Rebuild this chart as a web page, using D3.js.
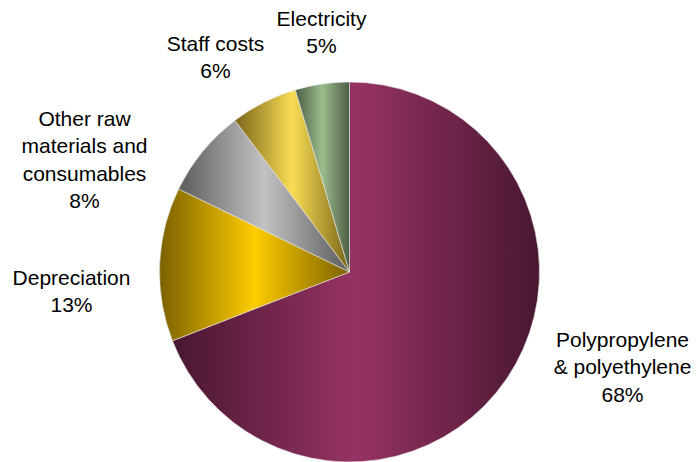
<!DOCTYPE html>
<html>
<head>
<meta charset="utf-8">
<script src="https://cdn.jsdelivr.net/npm/d3@7"></script>
<style>
  body { margin: 0; background: #fff; }
  text { font-family: "Liberation Sans", Arial, sans-serif; font-size: 21px; fill: #000; }
</style>
</head>
<body>
<div class="pie-chart"></div>
<script>
// data (slice sizes, labels as printed)
var categories = ["Polypropylene & polyethylene", "Depreciation", "Other raw materials and consumables", "Staff costs", "Electricity"];
var values = [69.1, 13.1, 7.5, 5.7, 4.6];
var labelLines = [
  ["Polypropylene", "& polyethylene", "68%"],
  ["Depreciation", "13%"],
  ["Other raw", "materials and", "consumables", "8%"],
  ["Staff costs", "6%"],
  ["Electricity", "5%"]
];

// slice colours: [light, dark]
var colors = [
  ["#973364", "#481730"],
  ["#ffcc00", "#7a6100"],
  ["#c2c2c2", "#5c5c5c"],
  ["#f9dc55", "#7a6518"],
  ["#9dbd8d", "#4c5c44"]
];

// label anchor (first baseline) relative to pie centre
var labelPos = [[273, 75], [-278, 13], [-265, -146], [-134, -221], [-28, -246]];

var width = 696, height = 462,
    cx = 349.5, cy = 272, radius = 190,
    lineHeight = 27.3;

var svg = d3.select(".pie-chart").append("svg")
    .attr("width", width)
    .attr("height", height);

var defs = svg.append("defs");
colors.forEach(function(c, i) {
  var g = defs.append("linearGradient")
      .attr("id", "grad" + i)
      .attr("x1", 0).attr("x2", 1).attr("y1", 0).attr("y2", 0);
  g.append("stop").attr("offset", "0%").attr("stop-color", c[1]);
  g.append("stop").attr("offset", "50%").attr("stop-color", c[0]);
  g.append("stop").attr("offset", "100%").attr("stop-color", c[1]);
});

var pie = d3.pie().sort(null).value(function(d) { return d; });
var arc = d3.arc().innerRadius(0).outerRadius(radius);

var g = svg.append("g")
    .attr("transform", "translate(" + cx + "," + cy + ")");

g.selectAll("path")
    .data(pie(values))
  .enter().append("path")
    .attr("d", arc)
    .attr("fill", function(d, i) { return "url(#grad" + i + ")"; })
    .attr("stroke", "#e8e8e8")
    .attr("stroke-width", 0.6);

// labels
var labels = g.selectAll(".label")
    .data(labelLines)
  .enter().append("text")
    .attr("class", "label")
    .attr("text-anchor", "middle")
    .attr("transform", function(d, i) {
      return "translate(" + labelPos[i][0] + "," + labelPos[i][1] + ")";
    });

labels.selectAll("tspan")
    .data(function(d) { return d; })
  .enter().append("tspan")
    .attr("x", 0)
    .attr("y", function(d, j) { return j * lineHeight; })
    .text(function(d) { return d; });
</script>
</body>
</html>
